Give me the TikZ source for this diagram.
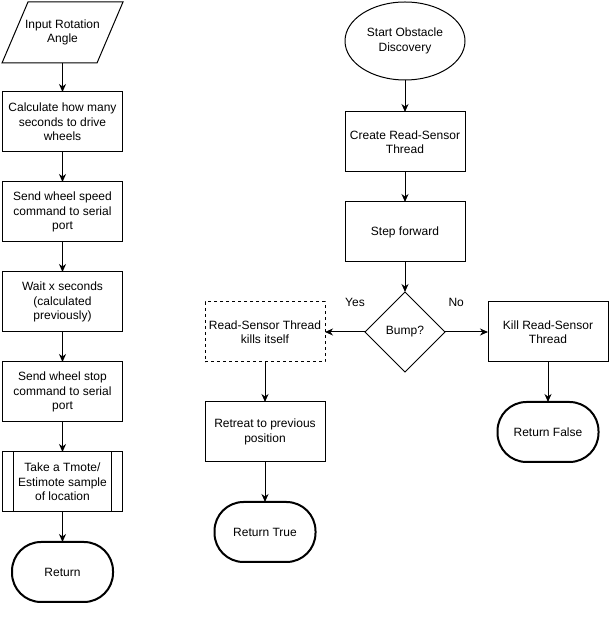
\documentclass[tikz,border=0pt]{standalone}
\usepackage{fontspec}
\setmainfont{Liberation Sans}
\usetikzlibrary{shapes.geometric, arrows.meta, positioning}

\begin{document}
\begin{tikzpicture}[
  x=1pt, y=1pt,
  node distance=30pt,
  font=\fontsize{12}{14.4}\selectfont,
  every node/.style={align=center, outer sep=0pt},
  proc/.style={rectangle, draw, line width=1pt, minimum width=120pt, minimum height=60pt, inner sep=2pt},
  io/.style={rectangle, minimum width=95pt, minimum height=61pt, inner sep=2pt},
  term/.style={rectangle, rounded corners=29pt, draw, line width=2pt,
    minimum width=101pt, minimum height=60pt},
  start/.style={ellipse, draw, line width=1pt, minimum width=120pt, minimum height=78pt, inner sep=0pt},
  decide/.style={diamond, draw, line width=1pt, minimum width=80pt, minimum height=80pt, inner sep=0pt},
  lbl/.style={inner sep=1pt},
  arr/.style={-{Stealth[length=8pt, width=7pt, inset=2.5pt]}, line width=1pt}
]
\useasboundingbox (0,0) rectangle (609,627);

% rotation routine
\node[io] (angle) at (62.5,594.5) {Input Rotation\\Angle};
\draw[line width=1pt] ([xshift=13pt]angle.north west) -- ([xshift=13pt]angle.north east)
  -- ([xshift=-13pt]angle.south east) -- ([xshift=-13pt]angle.south west) -- cycle;
\node[proc, below=29pt of angle] (secs) {Calculate how many\\seconds to drive\\wheels};
\node[proc, below=of secs] (speed) {Send wheel speed\\command to serial\\port};
\node[proc, below=of speed] (wait) {Wait x seconds\\(calculated\\previously)};
\node[proc, below=of wait] (stop) {Send wheel stop\\command to serial\\port};
\node[proc, below=of stop] (sample) {Take a Tmote/\\Estimote sample\\of location};
\draw[line width=1pt] ([xshift=11pt]sample.north west) -- ([xshift=11pt]sample.south west);
\draw[line width=1pt] ([xshift=-11pt]sample.north east) -- ([xshift=-11pt]sample.south east);
\node[term, below=of sample] (ret) {Return};

\draw[arr] (angle) -- (secs);
\draw[arr] (secs) -- (speed);
\draw[arr] (speed) -- (wait);
\draw[arr] (wait) -- (stop);
\draw[arr] (stop) -- (sample);
\draw[arr] (sample) -- (ret);

% obstacle discovery
\node[start] (disc) at (405,586) {Start Obstacle\\Discovery};
\node[proc, below=32pt of disc] (thread) {Create Read-Sensor\\Thread};
\node[proc, below=of thread] (fwd) {Step forward};
\node[decide, below=of fwd] (bump) {Bump?};
\node[proc, dashed, left=40pt of bump] (selfkill) {Read-Sensor Thread\\kills itself};
\node[proc, right=43pt of bump] (kill) {Kill Read-Sensor\\Thread};
\node[proc, below=40pt of selfkill] (retreat) {Retreat to previous\\position};
\node[term, below=40pt of retreat] (rettrue) {Return True};
\node[term, below=40pt of kill] (retfalse) {Return False};

\draw[arr] (disc) -- (thread);
\draw[arr] (thread) -- (fwd);
\draw[arr] (fwd) -- (bump);
\draw[arr] (bump) -- node[lbl, pos=0.25, yshift=30pt] {Yes} (selfkill);
\draw[arr] (bump) -- node[lbl, pos=0.26, yshift=30pt] {No} (kill);
\draw[arr] (selfkill) -- (retreat);
\draw[arr] (retreat) -- (rettrue);
\draw[arr] (kill) -- (retfalse);
\end{tikzpicture}
\end{document}
